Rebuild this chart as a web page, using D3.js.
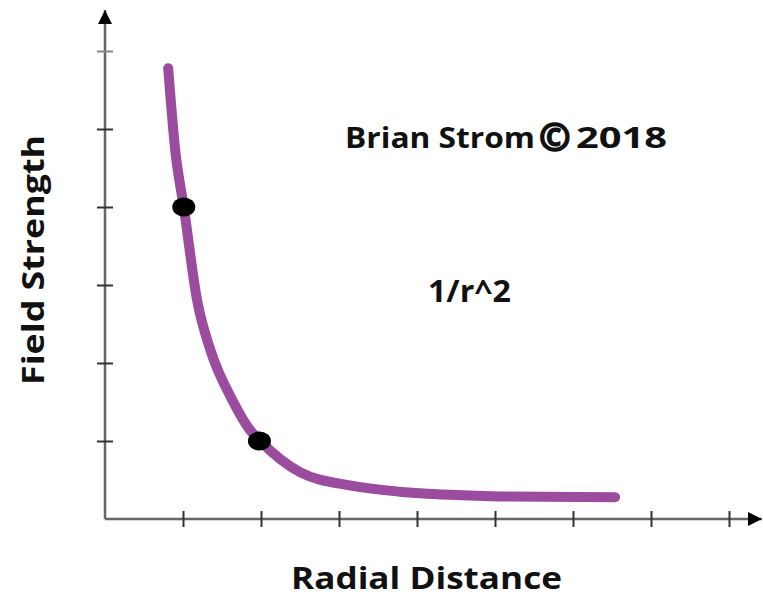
<!DOCTYPE html>
<html>
<head>
<meta charset="utf-8">
<script src="https://cdn.jsdelivr.net/npm/d3@7"></script>
<style>
  body { margin: 0; background: #fff; }
  text { font-family: 'Open Sans', 'Noto Sans', sans-serif; font-weight: bold; fill: #111; }
</style>
</head>
<body>
<div id="chart"></div>
<script>
// curve, in axis units
const curveR = [0.81, 0.90, 1.01, 1.18, 1.35, 1.63, 1.86, 1.99, 2.50, 3.14, 3.78, 4.42, 5.06, 6.54];
const curveF = [5.78, 4.73, 4.00, 2.81, 2.17, 1.53, 1.14, 1.00, 0.60, 0.43, 0.35, 0.31, 0.29, 0.28];

// the two marked points
const dotR = [1.01, 1.98];
const dotF = [4.0, 1.0];

const xTicks = [1, 2, 3, 4, 5, 6, 7, 8];
const yTicks = [1, 2, 3, 4, 5, 6];

const width = 763;
const height = 603;

let svg = d3.select('#chart').append('svg')
  .attr('width', width)
  .attr('height', height);

let x = d3.scaleLinear().domain([0, 8]).range([105, 729]);
let y = d3.scaleLinear().domain([0, 6]).range([519, 51]);

let defs = svg.append('defs');
defs.append('marker')
  .attr('id', 'arrow')
  .attr('viewBox', '0 0 10 10')
  .attr('refX', 10)
  .attr('refY', 5)
  .attr('markerUnits', 'userSpaceOnUse')
  .attr('markerWidth', 22)
  .attr('markerHeight', 14)
  .attr('orient', 'auto')
  .append('path')
    .attr('d', 'M0,0 L10,5 L0,10 Z')
    .attr('fill', '#000');

// axes: baseline with arrow heads, ticks from the scales
let axisG = svg.append('g');
axisG.append('line')
  .attr('x1', x(0)).attr('y1', y(0))
  .attr('x2', 762).attr('y2', y(0))
  .attr('stroke', '#666').attr('stroke-width', 2.5)
  .attr('marker-end', 'url(#arrow)');
axisG.append('line')
  .attr('x1', x(0)).attr('y1', y(0))
  .attr('x2', x(0)).attr('y2', 10)
  .attr('stroke', '#666').attr('stroke-width', 2.5)
  .attr('marker-end', 'url(#arrow)');

let xAxis = d3.axisBottom(x).tickValues(xTicks).tickSize(16).tickFormat('');
axisG.append('g')
  .attr('transform', `translate(0, ${y(0) - 8})`)
  .call(xAxis)
  .call(g => g.select('.domain').remove())
  .call(g => g.selectAll('.tick line').attr('stroke', '#333').attr('stroke-width', 2));

let yAxis = d3.axisLeft(y).tickValues(yTicks).tickSize(16).tickFormat('');
axisG.append('g')
  .attr('transform', `translate(${x(0) + 8}, 0)`)
  .call(yAxis)
  .call(g => g.select('.domain').remove())
  .call(g => g.selectAll('.tick line').attr('stroke', d => d === 6 ? '#888' : '#333').attr('stroke-width', 2));

// the 1/r^2 curve
let line = d3.line()
  .x((d, i) => x(curveR[i]))
  .y((d, i) => y(curveF[i]))
  .curve(d3.curveMonotoneX);

svg.append('path')
  .datum(curveR)
  .attr('d', line)
  .attr('fill', 'none')
  .attr('stroke', '#9b4c9f')
  .attr('stroke-width', 10)
  .attr('stroke-linecap', 'round');

svg.append('g').selectAll('ellipse')
  .data(dotR)
  .enter().append('ellipse')
    .attr('cx', d => x(d))
    .attr('cy', (d, i) => y(dotF[i]))
    .attr('rx', 11.5)
    .attr('ry', 9.5)
    .attr('fill', '#000');

// labels
svg.append('text')
  .attr('x', 291)
  .attr('y', 589)
  .attr('textLength', 271)
  .attr('lengthAdjust', 'spacingAndGlyphs')
  .style('font-size', '30px')
  .text('Radial Distance');

svg.append('text')
  .attr('transform', `translate(44, 385) rotate(-90)`)
  .attr('textLength', 250)
  .attr('lengthAdjust', 'spacingAndGlyphs')
  .style('font-size', '30px')
  .text('Field Strength');

let credit = svg.append('text')
  .attr('x', 345)
  .attr('y', 148)
  .style('font-size', '28px');
credit.append('tspan').attr('textLength', 190).attr('lengthAdjust', 'spacingAndGlyphs').text('Brian Strom');
credit.append('tspan').attr('x', 539).attr('dy', 3)
  .style('font-size', '38px').style('stroke', '#111').style('stroke-width', 1.6)
  .text('©');
credit.append('tspan').attr('x', 576).attr('dy', -3).attr('textLength', 91).attr('lengthAdjust', 'spacingAndGlyphs').text('2018');

svg.append('text')
  .attr('x', 428)
  .attr('y', 302)
  .attr('textLength', 83)
  .attr('lengthAdjust', 'spacingAndGlyphs')
  .style('font-size', '30px')
  .text('1/r^2');
</script>
</body>
</html>
